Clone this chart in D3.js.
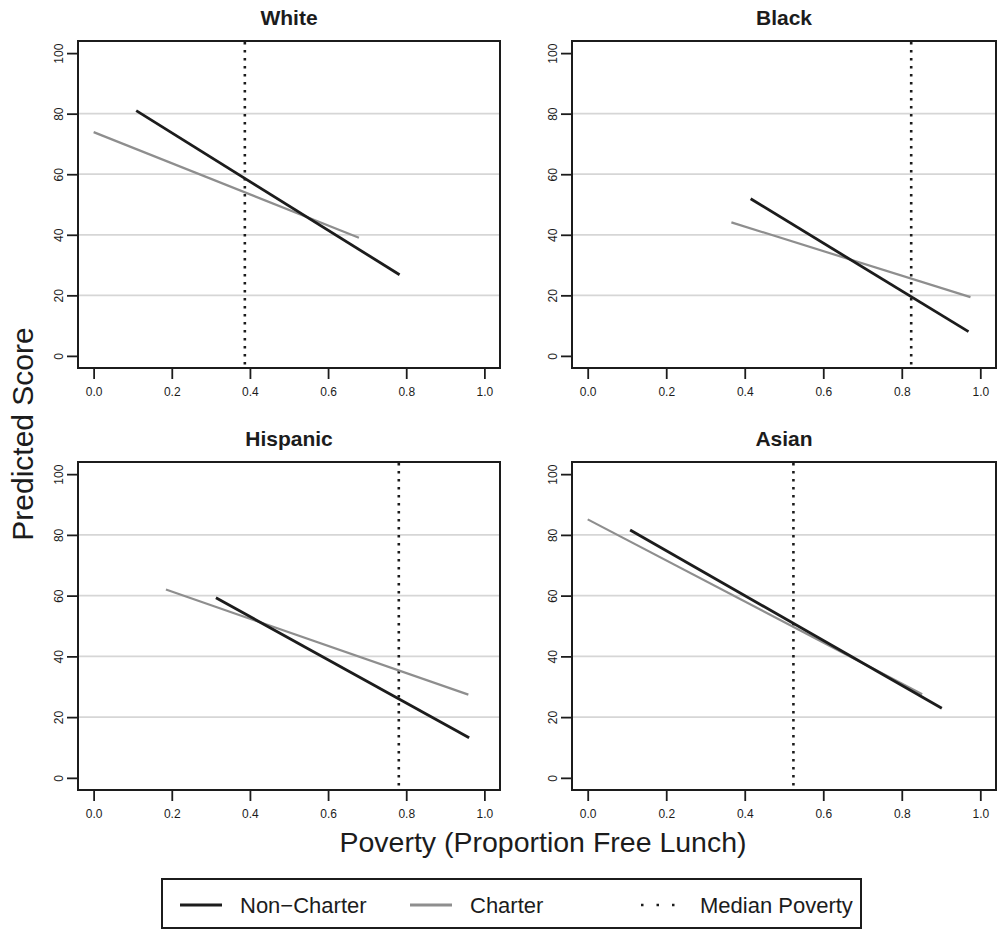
<!DOCTYPE html>
<html>
<head>
<meta charset="utf-8">
<script src="https://cdn.jsdelivr.net/npm/d3@7"></script>
<style>
  html, body { margin: 0; padding: 0; background: #fff; }
  svg { display: block; font-family: "Liberation Sans", Arial, Helvetica, sans-serif; }
</style>
</head>
<body>
<div id="chart"></div>
<script>
'use strict';

// values
const groups        = ['White', 'Black', 'Hispanic', 'Asian']
const medianPoverty = [0.387, 0.824, 0.781, 0.524]
const nonCharterX   = [[0.109, 0.783], [0.415, 0.970], [0.313, 0.961], [0.108, 0.902]]
const nonCharterY   = [[81.0, 26.8],   [51.9, 8.0],    [59.3, 13.2],   [81.6, 22.9]]
const charterX      = [[0.000, 0.679], [0.366, 0.975], [0.185, 0.959], [0.000, 0.852]]
const charterY      = [[73.9, 39.0],   [44.1, 19.4],   [62.0, 27.4],   [85.1, 27.5]]
const xTicks        = [0, 0.2, 0.4, 0.6, 0.8, 1.0]
const yTicks        = [0, 20, 40, 60, 80, 100]
const gridTicks     = [20, 40, 60, 80]
const legendItems   = ['Non\u2212Charter', 'Charter', 'Median Poverty']

const W = 997, H = 930
const INK = '#1c1c1c', GREY = '#8e8e8e'

// panel boxes (left, right, top, bottom)
const boxes = [
  {x0: 78,  x1: 500, y0: 41,  y1: 368},
  {x0: 572, x1: 996, y0: 41,  y1: 368},
  {x0: 78,  x1: 500, y0: 462, y1: 790},
  {x0: 572, x1: 996, y0: 462, y1: 790}
]

const svg = d3.select('#chart').append('svg')
  .attr('width', W)
  .attr('height', H)

svg.append('rect').attr('width', W).attr('height', H).attr('fill', '#fff')

const line = d3.line()

groups.forEach((name, i) => {
  const b = boxes[i]
  const x = d3.scaleLinear().domain([-0.04, 1.04]).range([b.x0, b.x1])
  const y = d3.scaleLinear().domain([-4, 104]).range([b.y1, b.y0])
  const g = svg.append('g')

  // light horizontal grid
  g.selectAll('line.grid')
    .data(gridTicks)
    .enter()
    .append('line')
      .attr('class', 'grid')
      .attr('x1', b.x0).attr('x2', b.x1)
      .attr('y1', (d) => y(d)).attr('y2', (d) => y(d))
      .attr('stroke', '#d6d6d6')
      .attr('stroke-width', 1.7)

  // median poverty
  g.append('line')
    .attr('x1', x(medianPoverty[i])).attr('x2', x(medianPoverty[i]))
    .attr('y1', b.y0 + 1).attr('y2', b.y1)
    .attr('stroke', INK)
    .attr('stroke-width', 2.6)
    .attr('stroke-dasharray', '2.5,5.5')

  const cPts  = charterX[i].map((v, k) => [x(v), y(charterY[i][k])])
  const ncPts = nonCharterX[i].map((v, k) => [x(v), y(nonCharterY[i][k])])

  g.append('path')
    .attr('d', line(cPts))
    .attr('fill', 'none')
    .attr('stroke', GREY)
    .attr('stroke-width', 2.2)

  g.append('path')
    .attr('d', line(ncPts))
    .attr('fill', 'none')
    .attr('stroke', INK)
    .attr('stroke-width', 2.8)

  // axes
  const xAxis = g.append('g')
    .attr('transform', `translate(0,${b.y1})`)
    .call(d3.axisBottom(x).tickValues(xTicks).tickFormat(d3.format('.1f')).tickSize(11).tickPadding(8.5))
  const yAxis = g.append('g')
    .attr('transform', `translate(${b.x0},0)`)
    .call(d3.axisLeft(y).tickValues(yTicks).tickFormat(d3.format('d')).tickSize(11))

  ;[xAxis, yAxis].forEach((ax) => {
    ax.select('.domain').remove()
    ax.selectAll('.tick line').attr('stroke', INK).attr('stroke-width', 1.8)
    ax.selectAll('.tick text')
      .attr('fill', INK)
      .style('font-size', '12px')
      .style('font-family', '"Liberation Sans", Arial, sans-serif')
  })
  yAxis.selectAll('.tick text')
    .attr('x', 0)
    .attr('dy', null)
    .attr('y', -15)
    .attr('text-anchor', 'middle')
    .attr('transform', 'rotate(-90)')

  // frame
  g.append('rect')
    .attr('x', b.x0).attr('y', b.y0)
    .attr('width', b.x1 - b.x0).attr('height', b.y1 - b.y0)
    .attr('fill', 'none')
    .attr('stroke', INK)
    .attr('stroke-width', 2)

  g.append('text')
    .attr('x', (b.x0 + b.x1) / 2)
    .attr('y', b.y0 - 16)
    .attr('text-anchor', 'middle')
    .attr('fill', INK)
    .style('font-size', '21px')
    .style('font-weight', 'bold')
    .text(name)
})

// outer axis titles
svg.append('text')
  .attr('transform', 'translate(33,434) rotate(-90)')
  .attr('text-anchor', 'middle')
  .attr('fill', INK)
  .style('font-size', '30px')
  .text('Predicted Score')

svg.append('text')
  .attr('x', 543)
  .attr('y', 852)
  .attr('text-anchor', 'middle')
  .attr('fill', INK)
  .style('font-size', '28.5px')
  .text('Poverty (Proportion Free Lunch)')

// legend
const legend = svg.append('g')
legend.append('rect')
  .attr('x', 162).attr('y', 879)
  .attr('width', 699).attr('height', 49)
  .attr('fill', 'none')
  .attr('stroke', INK)
  .attr('stroke-width', 2)

const keyX  = [180, 410, 641]
const textX = [240, 470, 700]
const keyStyle = [
  {stroke: INK,  width: 3.2, dash: null},
  {stroke: GREY, width: 3.2, dash: null},
  {stroke: INK,  width: 2.6, dash: '2.5,13'}
]
legendItems.forEach((label, i) => {
  legend.append('line')
    .attr('x1', keyX[i]).attr('x2', keyX[i] + 42)
    .attr('y1', 905).attr('y2', 905)
    .attr('stroke', keyStyle[i].stroke)
    .attr('stroke-width', keyStyle[i].width)
    .attr('stroke-dasharray', keyStyle[i].dash)
  legend.append('text')
    .attr('x', textX[i])
    .attr('y', 913)
    .attr('fill', INK)
    .style('font-size', '22px')
    .text(label)
})
</script>
</body>
</html>
